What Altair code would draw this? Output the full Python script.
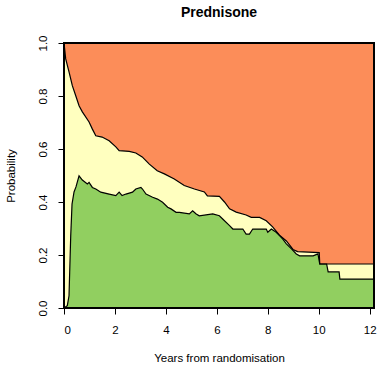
import altair as alt
import pandas as pd

# Upper boundary: 1 - P(dead)  (top of yellow band)
upper_t = [0.0, 0.067, 0.197, 0.327, 0.461, 0.591, 0.720, 0.984, 1.114, 1.248, 1.496, 1.772,
           2.035, 2.165, 2.56, 2.82, 3.07, 3.35, 3.66, 3.94, 4.33, 4.72, 5.12, 5.51, 5.63,
           6.10, 6.30, 6.50, 6.76, 7.15, 7.35, 7.68, 7.94, 8.19, 8.46, 8.73, 8.99, 9.17,
           10.02, 10.04, 12.17]
upper_p = [1.0, 0.940, 0.891, 0.839, 0.801, 0.763, 0.740, 0.702, 0.675, 0.650, 0.645, 0.631,
           0.608, 0.594, 0.591, 0.585, 0.570, 0.543, 0.518, 0.506, 0.487, 0.462, 0.449, 0.438, 0.423,
           0.421, 0.400, 0.374, 0.362, 0.351, 0.342, 0.342, 0.329, 0.306, 0.275, 0.253, 0.221, 0.213,
           0.209, 0.166, 0.166]

# Lower boundary: P(state 1) (top of green band)
lower_t = [0.0, 0.13, 0.197, 0.264, 0.315, 0.394, 0.47, 0.591, 0.72, 0.917, 0.984, 1.114,
           1.248, 1.445, 1.772, 2.035, 2.165, 2.28, 2.43, 2.69, 2.82, 3.02, 3.08, 3.22, 3.48,
           3.67, 3.87, 4.07, 4.20, 4.40, 4.53, 4.92, 5.05, 5.19, 5.31, 5.84, 6.10, 6.23, 6.50,
           6.63, 7.02, 7.15, 7.28, 7.41, 7.94, 8.00, 8.14, 8.33, 8.46, 8.59, 8.73, 8.93, 9.12,
           9.25, 9.78, 9.97, 10.04, 10.31, 10.37, 10.80, 10.83, 12.17]
lower_p = [0.0, 0.009, 0.046, 0.273, 0.392, 0.438, 0.457, 0.499, 0.483, 0.468, 0.474, 0.455,
           0.449, 0.437, 0.430, 0.424, 0.437, 0.424, 0.430, 0.437, 0.449, 0.455, 0.449, 0.430, 0.418,
           0.411, 0.399, 0.380, 0.374, 0.361, 0.361, 0.355, 0.367, 0.355, 0.348, 0.355, 0.348, 0.336, 0.311,
           0.298, 0.298, 0.279, 0.279, 0.298, 0.298, 0.286, 0.298, 0.286, 0.273, 0.260, 0.242, 0.223, 0.204,
           0.197, 0.197, 0.204, 0.166, 0.166, 0.136, 0.136, 0.109, 0.109]

x_ticks = [0, 2, 4, 6, 8, 10, 12]
y_ticks = [0.0, 0.2, 0.4, 0.6, 0.8, 1.0]

FONT = "Liberation Sans"
ORANGE = "#FC8D59"
YELLOW = "#FFFFBF"
GREEN = "#91CF60"

W, H = 310, 265

up = pd.DataFrame({"t": upper_t, "p": upper_p})
lo = pd.DataFrame({"t": lower_t, "p": lower_p})

xscale = alt.Scale(domain=[0, 12.17], nice=False, zero=False)
yscale = alt.Scale(domain=[0, 1], nice=False)

xaxis = alt.Axis(values=x_ticks, title="Years from randomisation", format="d",
                 grid=False, domain=False, tickColor="black", tickSize=6,
                 labelFont=FONT, labelFontSize=11.5, labelColor="black", labelPadding=10,
                 titleFont=FONT, titleFontSize=11.5, titleFontWeight="normal",
                 titleColor="black", titlePadding=17)
yaxis = alt.Axis(values=y_ticks, title="Probability", format=".1f",
                 grid=False, domain=False, tickColor="black", tickSize=6,
                 labelFont=FONT, labelFontSize=11.5, labelColor="black", labelAngle=-90,
                 labelAlign="center", labelBaseline="bottom", labelPadding=10,
                 titleFont=FONT, titleFontSize=11.5, titleFontWeight="normal",
                 titleColor="black", titlePadding=21)

x = alt.X("t:Q", scale=xscale, axis=xaxis)
y = alt.Y("p:Q", scale=yscale, axis=yaxis)

bg = alt.Chart(up).mark_rect(color=ORANGE, opacity=1).encode(
    x=alt.value(0), x2=alt.value(W), y=alt.value(0), y2=alt.value(H))
yellow = alt.Chart(up).mark_area(color=YELLOW, opacity=1).encode(x=x, y=y)
green = alt.Chart(lo).mark_area(color=GREEN, opacity=1).encode(x=x, y=y)
line_up = alt.Chart(up).mark_line(color="black", strokeWidth=1.2).encode(x=x, y=y)
line_lo = alt.Chart(lo).mark_line(color="black", strokeWidth=1.2).encode(x=x, y=y)
box = alt.Chart(up).mark_rect(fill=None, stroke="black", strokeWidth=1.2).encode(
    x=alt.value(0), x2=alt.value(W), y=alt.value(0), y2=alt.value(H))

chart = alt.layer(bg, yellow, green, line_up, line_lo, box).properties(
    width=W, height=H,
    autosize=alt.AutoSizeParams(type="none"),
    padding={"left": 64, "top": 43, "right": 3, "bottom": 57},
    title=alt.Title("Prednisone", font=FONT, fontSize=14, fontWeight="bold",
                    color="black", anchor="middle", offset=15),
).configure_view(stroke=None).configure(background="white")

chart.save("out.html", embed_options={"renderer": "svg", "actions": False})
